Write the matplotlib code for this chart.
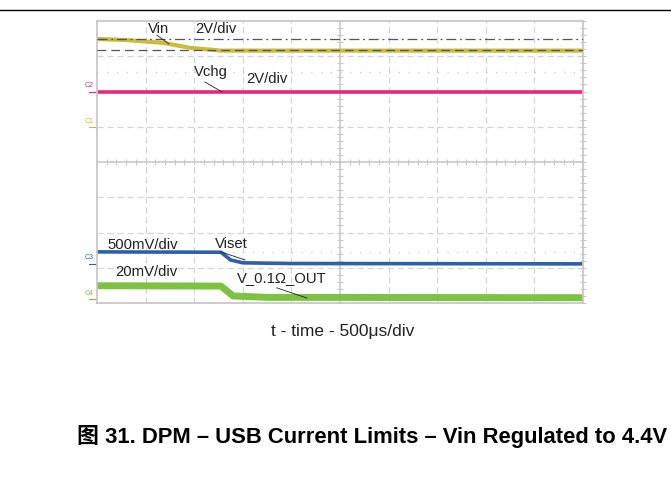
import numpy as np
import matplotlib
matplotlib.use("Agg")
import matplotlib.pyplot as plt

# scope traces, time and level in screen divisions (10 x 8 grid)
vin_t = [0.0, 0.6, 1.36, 1.91, 2.55, 10.0]
vin_v = [7.49, 7.46, 7.38, 7.24, 7.16, 7.16]
vchg_t = [0.0, 10.0]
vchg_v = [6.0, 6.0]
viset_t = [0.0, 2.55, 2.75, 3.0, 4.0, 10.0]
viset_v = [1.45, 1.44, 1.22, 1.14, 1.12, 1.11]
vout_t = [0.0, 2.55, 2.8, 3.5, 10.0]
vout_v = [0.49, 0.48, 0.20, 0.16, 0.15]

vin_ref_hi = 7.50
vin_ref_lo = 7.19
cursor_levels = [6.55, 1.45]

ch_names = ["C1", "C2", "C3", "C4"]
ch_levels = [5.0, 6.0, 1.12, 0.12]
ch_colors = ["#c9bc3a", "#e8287c", "#2e5fac", "#7dc242"]

plt.rcParams['font.family'] = ['Liberation Sans', 'DejaVu Sans']

fig = plt.figure(figsize=(6.71, 4.79), dpi=100)
ax = fig.add_axes([97/671, 1-303/479, 486/671, 282/479])
ax.set_xlim(0, 10)
ax.set_ylim(0, 8)
ax.set_xticks([])
ax.set_yticks([])
for s in ax.spines.values():
    s.set_color("#c8c8c8")
    s.set_linewidth(1.3)

# graticule
for x in range(1, 10):
    if x == 5:
        continue
    ax.axvline(x, color="#d6d6d6", lw=0.9, ls=(0, (5, 3)), zorder=0)
for y in range(1, 8):
    if y == 4:
        continue
    ax.axhline(y, color="#d6d6d6", lw=0.9, ls=(0, (5, 3)), zorder=0)
ax.axvline(5, color="#cfcfcf", lw=1.3, zorder=0)
ax.axhline(4, color="#cfcfcf", lw=1.3, zorder=0)
tx = np.arange(0, 10.01, 0.2)
ty = np.arange(0, 8.01, 0.2)
ax.plot(tx, np.full(tx.size, 4.0), ls="none", marker="|", ms=4, mew=0.8, color="#c8c8c8", zorder=0)
ax.plot(np.full(ty.size, 5.0), ty, ls="none", marker="_", ms=4, mew=0.8, color="#c8c8c8", zorder=0)
ax.plot(np.full(ty.size, 10.0), ty, ls="none", marker="_", ms=4, mew=0.8, color="#c8c8c8", zorder=0, clip_on=False)
for lv in cursor_levels:
    ax.axhline(lv, color="#c8c8c8", lw=1.0, ls=(0, (0.8, 6.2)), zorder=0)

# traces
ax.plot(vin_t, vin_v, color=ch_colors[0], lw=3.0, zorder=2)
ax.plot(vchg_t, vchg_v, color=ch_colors[1], lw=2.6, zorder=2)
ax.plot(viset_t, viset_v, color=ch_colors[2], lw=2.6, zorder=2)
ax.plot(vout_t, vout_v, color=ch_colors[3], lw=5.0, zorder=2)

ax.axhline(vin_ref_hi, color="#555555", lw=0.9, ls=(0, (8, 3, 1.5, 3)), zorder=3)
ax.axhline(vin_ref_lo, color="#555555", lw=0.9, ls=(0, (7, 4)), zorder=3)

# channel markers at left edge
for nm, lv, c in zip(ch_names, ch_levels, ch_colors):
    ax.annotate(nm, xy=(0, lv), xycoords="data", xytext=(-5.5, 1.5), textcoords="offset points",
                fontsize=5, color=c, ha="center", va="bottom", annotation_clip=False)
    ax.plot([-0.16, -0.03], [lv, lv], color=c, lw=0.8, clip_on=False)

# labels with leaders
def lab(s, x, y):
    ax.text(x, y, s, fontsize=10.7, color="#222222", ha="left", va="baseline")

lab("Vin", 1.05, 7.65)
lab("2V/div", 2.02, 7.66)
lab("Vchg", 2.0, 6.44)
lab("2V/div", 3.07, 6.24)
lab("500mV/div", 0.21, 1.53)
lab("Viset", 2.43, 1.56)
lab("20mV/div", 0.37, 0.76)
lab("V_0.1\u03a9_OUT", 2.88, 0.59)

def leader(x0, y0, x1, y1):
    ax.plot([x0, x1], [y0, y1], color="#222222", lw=0.6, zorder=4, clip_on=False)

leader(1.23, 7.60, 1.48, 7.35)
leader(2.22, 6.27, 2.57, 5.99)
leader(2.55, 1.45, 3.05, 1.22)
leader(3.70, 0.43, 4.32, 0.14)

fig.text(343/671, 1-336/479, "t - time - 500\u03bcs/div", fontsize=12.5, ha="center", va="baseline",
         color="#222222")

# top rule and caption
fig.add_artist(plt.Line2D([0, 1], [1-9.5/479, 1-9.5/479], color="black", lw=1.0))
fig.text(77/671, 1-443/479, "\u56fe 31. DPM \u2013 USB Current Limits \u2013 Vin Regulated to 4.4V",
         fontsize=15.8, fontweight="bold", ha="left", va="baseline",
         family=['Liberation Sans', 'Noto Sans CJK SC'])

fig.savefig("out.png", dpi=100)
